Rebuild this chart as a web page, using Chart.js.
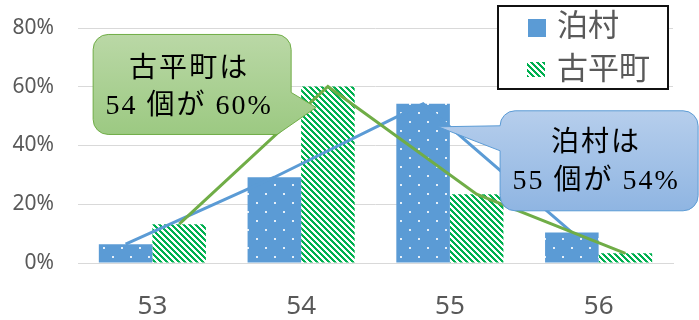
<!DOCTYPE html>
<html>
<head>
<meta charset="utf-8">
<script src="https://cdn.jsdelivr.net/npm/chart.js@4.4.1/dist/chart.umd.min.js"></script>
<style>
  html, body { margin: 0; padding: 0; background: #fff; }
  #wrap { width: 699px; height: 320px; }
</style>
</head>
<body>
<div id="wrap"><canvas id="chart" width="699" height="320"></canvas></div>
<script>
const categories = ['53', '54', '55', '56'];
const seriesNames = ['泊村', '古平町'];
const tomariValues = [6.4, 29.2, 54.2, 10.4];
const furubiraValues = [13.2, 60.1, 23.4, 3.3];
const yTicks = [0, 20, 40, 60, 80];

const BLUE = '#5B9BD5';
const GREEN_LINE = '#70AD47';

const canvas = document.getElementById('chart');
const ctx = canvas.getContext('2d');

// blue fill with small white dots
function dotPattern() {
    const c = document.createElement('canvas');
    c.width = 18; c.height = 18;
    const g = c.getContext('2d');
    g.fillStyle = BLUE;
    g.fillRect(0, 0, 18, 18);
    g.fillStyle = 'rgba(255,255,255,0.85)';
    g.fillRect(4, 4, 2, 2);
    g.fillRect(13, 13, 2, 2);
    return ctx.createPattern(c, 'repeat');
}

// white / green diagonal stripes
function stripePattern() {
    const c = document.createElement('canvas');
    c.width = 6; c.height = 6;
    const g = c.getContext('2d');
    const img = g.createImageData(6, 6);
    for (let y = 0; y < 6; y++) {
        for (let x = 0; x < 6; x++) {
            const i = (y * 6 + x) * 4;
            const on = ((x - y + 60) % 6) < 3;
            img.data[i] = on ? 0 : 255;
            img.data[i + 1] = on ? 176 : 255;
            img.data[i + 2] = on ? 80 : 255;
            img.data[i + 3] = 255;
        }
    }
    g.putImageData(img, 0, 0);
    return ctx.createPattern(c, 'repeat');
}

const dots = dotPattern();
const stripes = stripePattern();

// put the line points on the centre of their own bars
const alignLines = {
    id: 'alignLines',
    afterDatasetsUpdate(chart) {
        chart.data.datasets.forEach((ds, i) => {
            if (ds.type !== 'line') return;
            const bars = chart.getDatasetMeta(ds.barIndex).data;
            chart.getDatasetMeta(i).data.forEach((pt, k) => { pt.x = bars[k].x; });
        });
    }
};

function drawCallout(c, box, tip, side, colors, lines, lineOffsets) {
    const r = 15;
    const { l, t, w, h } = box;
    const rt = l + w, b = t + h;
    c.save();
    c.beginPath();
    if (side === 'right') {
        c.moveTo(l + r, t);
        c.lineTo(rt - r, t);
        c.arcTo(rt, t, rt, t + r, r);
        c.lineTo(rt, tip.y - 15);
        c.lineTo(tip.x, tip.y);
        c.lineTo(rt - 14, b);
        c.lineTo(l + r, b);
        c.arcTo(l, b, l, b - r, r);
        c.lineTo(l, t + r);
        c.arcTo(l, t, l + r, t, r);
    } else {
        c.moveTo(l + r, t);
        c.lineTo(rt - r, t);
        c.arcTo(rt, t, rt, t + r, r);
        c.lineTo(rt, b - r);
        c.arcTo(rt, b, rt - r, b, r);
        c.lineTo(l + r, b);
        c.arcTo(l, b, l, b - r, r);
        c.lineTo(l, tip.y + 24);
        c.lineTo(tip.x, tip.y);
        c.lineTo(l, tip.y - 1);
        c.lineTo(l, t + r);
        c.arcTo(l, t, l + r, t, r);
    }
    c.closePath();
    const grad = c.createLinearGradient(0, t, 0, b);
    grad.addColorStop(0, colors[0]);
    grad.addColorStop(1, colors[1]);
    c.fillStyle = grad;
    c.fill();
    c.lineWidth = 1;
    c.strokeStyle = colors[2];
    c.stroke();

    c.fillStyle = '#000';
    c.font = '28px "Liberation Serif", "Noto Sans CJK JP", serif';
    c.letterSpacing = '2px';
    c.textAlign = 'center';
    c.textBaseline = 'middle';
    const cx = l + w / 2 - 3;
    const cy = t + h / 2;
    lines.forEach((s, i) => c.fillText(s, cx, cy + lineOffsets[i]));
    c.restore();
}

const annotations = {
    id: 'annotations',
    afterDraw(chart) {
        const c = chart.ctx;

        // green callout on 古平町 at 54
        const gBar = chart.getDatasetMeta(1).data[1];
        const gTip = { x: gBar.x - gBar.width / 2 + 15, y: gBar.y + 21 };
        drawCallout(c, { l: gTip.x - 223, t: gTip.y - 73, w: 198, h: 100 }, gTip, 'right',
            ['#BAD8A6', '#9CC982', GREEN_LINE],
            [seriesNames[1] + 'は', categories[1] + ' 個が ' + Math.round(furubiraValues[1]) + '%'],
            [-15, 22]);

        // blue callout on 泊村 at 55
        const bBar = chart.getDatasetMeta(0).data[2];
        const bTip = { x: bBar.x + 15, y: bBar.y + 23 };
        drawCallout(c, { l: bTip.x + 62, t: bTip.y - 16, w: 198, h: 100 }, bTip, 'left',
            ['#B6CEEC', '#8FB5E2', BLUE],
            [seriesNames[0] + 'は', categories[2] + ' 個が ' + Math.round(tomariValues[2]) + '%'],
            [-17, 21]);

        // legend box
        c.save();
        c.fillStyle = '#fff';
        c.fillRect(498, 6, 170, 83);
        c.lineWidth = 2;
        c.strokeStyle = '#111';
        c.strokeRect(498, 6, 170, 83);
        c.fillStyle = BLUE;
        c.fillRect(528, 19, 18, 18);
        c.fillStyle = stripes;
        c.fillRect(527, 62, 18, 15);
        c.fillStyle = '#595959';
        c.font = '31px "Noto Sans CJK JP", sans-serif';
        c.textBaseline = 'middle';
        c.fillText(seriesNames[0], 557, 24);
        c.fillText(seriesNames[1], 557, 67);
        c.restore();
    }
};

new Chart(canvas, {
    data: {
        labels: categories,
        datasets: [
            { type: 'bar', label: seriesNames[0], data: tomariValues, backgroundColor: dots,
              borderWidth: 0, categoryPercentage: 0.72, barPercentage: 1, order: 2 },
            { type: 'bar', label: seriesNames[1], data: furubiraValues, backgroundColor: stripes,
              borderWidth: 0, categoryPercentage: 0.72, barPercentage: 1, order: 2 },
            { type: 'line', label: seriesNames[0], data: tomariValues, barIndex: 0,
              borderColor: BLUE, borderWidth: 3, pointRadius: 0, tension: 0, order: 1 },
            { type: 'line', label: seriesNames[1], data: furubiraValues, barIndex: 1,
              borderColor: GREEN_LINE, borderWidth: 3, pointRadius: 0, tension: 0, order: 0 }
        ]
    },
    options: {
        responsive: false,
        animation: false,
        layout: { padding: { top: 28, right: 26, left: 0, bottom: 0 } },
        plugins: {
            legend: { display: false },
            tooltip: { enabled: false }
        },
        scales: {
            x: {
                grid: { display: false, drawTicks: false },
                border: { color: '#D9D9D9', width: 1 },
                ticks: { color: '#595959', font: { family: 'Noto Sans', size: 26 }, padding: 28 },
                afterFit(s) { s.height = 57; }
            },
            y: {
                min: 0, max: 80,
                afterBuildTicks(s) { s.ticks = yTicks.map(v => ({ value: v })); },
                ticks: { color: '#595959', font: { family: 'Noto Sans', size: 21 }, padding: 24,
                         callback: v => v + '%' },
                grid: { color: '#D9D9D9', drawTicks: false },
                border: { display: false },
                afterFit(s) { s.width = 78; s.paddingTop = 10; s.paddingBottom = 10; }
            }
        }
    },
    plugins: [alignLines, annotations]
});
</script>
</body>
</html>
